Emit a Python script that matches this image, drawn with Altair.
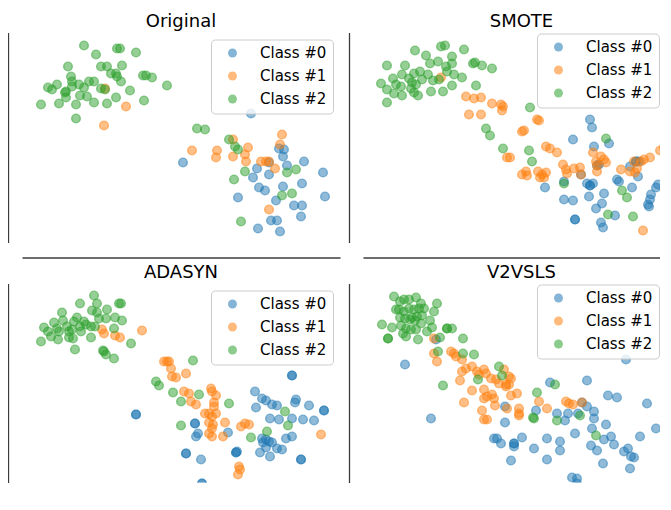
import altair as alt
import pandas as pd

CLASSES = ["Class #0", "Class #1", "Class #2"]
COLORS = ["#1f77b4", "#ff7f0e", "#2ca02c"]
TITLES = ["Original", "SMOTE", "ADASYN", "V2VSLS"]

# ---- Original ----
ORIG_0 = [(229,129),(161,80),(257,94),(262,93),(261,86),(247,80),(235,74),(265,77),(282,81),
          (247,68),(231,65),(301,70),(237,55),(243,52),(261,56),(280,59),(303,46),(216,45),
          (254,42),(272,37),(280,37),(279,26),(249,22),(255,22),(236,14),(258,11)]
ORIG_1 = [(83,154),(104,136),(82,117),(170,92),(195,92),(194,85),(211,103),(226,95),(211,86),
          (223,88),(224,81),(260,108),(258,98),(239,81),(244,81),(247,81),(253,74),(247,33)]
ORIG_2 = [(62,197),(74,188),(95,194),(98,194),(114,190),(46,176),(79,176),(85,176),(100,177),
          (89,169),(94,169),(95,166),(121,167),(124,167),(130,165),(49,166),(50,161),(99,161),
          (67,161),(72,161),(145,157),(35,158),(26,155),(30,153),(44,151),(43,150),(44,145),
          (57,158),(62,155),(50,156),(79,154),(83,153),(108,152),(58,147),(65,146),(94,145),
          (122,142),(19,138),(37,139),(54,138),(72,140),(85,139),(54,124),(175,114),(183,113),
          (207,103),(213,96),(216,93),(265,70),(274,73),(223,71),(212,63),(260,47),(270,49),(219,21)]

# ---- SMOTE ----
SMOTE_0 = [(227,123),(229,115),(210,103),(231,96),(246,99),(234,77),(236,78),(218,68),(182,55),
           (201,61),(224,59),(227,57),(230,59),(226,46),(241,49),(201,43),(210,42),(239,39),
           (233,34),(254,63),(256,61),(269,55),(267,76),(273,81),(276,81),(275,66),(295,58),
           (293,55),(288,48),(287,43),(285,38),(286,36),(212,23),(212,23),(252,27),(238,20),(240,15),
           (227,57),(273,81)]
SMOTE_1 = [(78,165),(103,146),(111,144),(118,145),(129,139),(138,138),(140,136),(139,132),
           (106,128),(118,128),(144,85),(147,85),(174,123),(176,122),(159,111),(161,112),
           (183,96),(187,94),(194,90),(230,90),(238,86),(241,83),(243,80),(233,81),(234,77),
           (200,78),(203,73),(211,74),(217,75),(218,68),(163,71),(159,68),(164,67),(175,71),
           (179,68),(183,70),(177,65),(181,65),(204,69),(234,71),(258,73),(267,71),(271,81),
           (278,81),(281,83),(287,85),(272,70),(274,74),(297,92),(301,95),(280,12)]
SMOTE_2 = [(52,192),(78,196),(82,197),(101,193),(63,187),(89,186),(24,177),(42,177),(67,179),
           (75,181),(89,179),(83,176),(84,171),(110,179),(112,180),(119,177),(129,174),(57,171),
           (51,169),(39,168),(65,168),(91,168),(30,164),(46,164),(59,163),(70,162),(76,163),
           (99,165),(18,159),(33,158),(38,156),(49,160),(53,158),(89,157),(113,157),(24,153),
           (31,149),(39,147),(48,154),(51,150),(55,147),(68,151),(80,151),(24,140),(123,114),
           (127,107),(140,94),(167,135),(166,92),(169,81),(243,104),(201,59),(259,52),(264,45),
           (245,28),(270,26)]

# ---- ADASYN ----
ADA_0 = [(114,79),(114,79),(173,70),(173,70),(174,57),(176,60),(206,61),(164,40),(164,40),
         (179,34),(180,10),(180,10),(214,41),(214,41),(215,42),(270,118),(270,118),(233,102),
         (234,86),(240,95),(244,93),(250,89),(255,88),(274,94),(273,91),(287,88),(302,83),
         (302,83),(248,75),(257,74),(270,75),(281,74),(292,73),(240,55),(244,54),(241,51),
         (247,52),(250,51),(264,55),(270,57),(238,41),(244,46),(248,37),(255,45),(260,44),
         (279,34),(279,34)]
ADA_1 = [(80,164),(82,160),(93,158),(98,156),(120,163),(142,132),(145,132),(147,132),(149,125),
         (150,117),(154,116),(164,120),(162,102),(167,100),(169,92),(174,89),(189,105),(190,102),
         (194,98),(192,91),(192,87),(183,80),(187,80),(190,77),(194,80),(187,71),(190,65),
         (191,69),(187,60),(190,57),(201,57),(203,71),(219,67),(223,70),(227,69),(217,27),
         (218,24),(216,19),(299,59)]
ADA_2 = [(72,198),(58,190),(75,190),(97,190),(99,190),(40,181),(70,183),(75,181),(85,184),
         (32,171),(41,173),(55,176),(52,172),(62,172),(77,175),(84,175),(93,176),(100,173),
         (22,166),(26,162),(35,165),(37,162),(45,167),(47,162),(50,164),(58,167),(59,162),
         (64,169),(69,167),(73,167),(92,165),(29,157),(36,154),(47,156),(51,155),(69,156),
         (19,152),(109,150),(53,144),(81,143),(82,142),(84,139),(92,135),(134,112),(137,108),
         (171,133),(151,101),(159,92),(177,99),(207,90),(159,68),(229,56),(245,62),(263,82),(266,68)]

# ---- V2VSLS ----
V2_0 = [(73,154),(42,129),(68,75),(142,87),(142,71),(131,55),(134,55),(138,50),(148,33),
        (187,111),(224,113),(173,83),(194,80),(202,73),(205,80),(215,80),(219,91),(224,87),
        (231,82),(231,75),(245,98),(254,96),(284,90),(263,134),(243,69),(212,60),(229,65),
        (241,54),(248,57),(251,49),(293,65),(303,60),(277,57),(159,56),(151,50),(151,50),
        (151,47),(184,55),(197,52),(197,43),(171,45),(228,48),(234,43),(261,42),(265,45),
        (268,37),(271,36),(184,34),(240,30),(267,25),(209,16),(214,15),(214,10)]
V2_1 = [(71,155),(71,140),(74,132),(88,142),(91,140),(93,137),(99,134),(99,122),(103,125),
        (109,127),(97,113),(114,122),(116,119),(121,124),(123,120),(128,115),(133,114),(136,110),
        (143,109),(109,103),(121,104),(124,97),(121,95),(129,99),(131,95),(101,91),(132,88),
        (119,83),(121,74),(124,74),(141,124),(146,117),(148,115),(146,109),(143,107),(148,98),
        (154,100),(156,85),(156,80),(156,78),(144,85),(176,92),(184,85),(203,92),(206,90),
        (210,89),(219,91)]
V2_2 = [(31,197),(37,192),(41,194),(46,194),(53,196),(58,190),(74,190),(33,184),(36,184),
        (41,182),(46,185),(51,184),(56,185),(61,185),(71,182),(37,176),(42,175),(49,176),
        (54,177),(59,178),(67,173),(58,170),(52,173),(47,174),(19,169),(29,166),(38,168),
        (43,165),(48,164),(53,164),(64,162),(69,166),(40,160),(43,157),(55,154),(25,155),
        (25,155),(84,165),(84,165),(89,165),(77,156),(100,155),(75,142),(100,140),(111,139),
        (80,108),(136,127),(139,118),(115,114),(174,101),(192,109),(170,76),(171,75),(194,73),
        (217,78),(233,58)]

# visible extents (data units) of each panel
X_FULL = 318
X_CUT = 297
Y_TOP = 210
Y_LOW_BOTTOM = 11     # lower row is cut a little at the bottom edge

AXIS_COLOR = "#3c3c3c"


def frame(c0, c1, c2):
    rows = []
    for cls, pts in zip(CLASSES, (c0, c1, c2)):
        for x, y in pts:
            rows.append({"x": x, "y": y, "cls": cls})
    return pd.DataFrame(rows)


def panel(df, title, xmax, ymin, bottom_axis, dx, legend_offset):
    if bottom_axis:
        x_axis = alt.Axis(domain=True, ticks=False, labels=False, grid=False,
                          offset=15, domainColor=AXIS_COLOR, domainWidth=1.3)
    else:
        x_axis = None
    y_axis = alt.Axis(domain=True, ticks=False, labels=False, grid=False,
                      offset=14, domainColor=AXIS_COLOR, domainWidth=1.3)
    cscale = alt.Scale(domain=CLASSES, range=COLORS)
    return alt.Chart(
        df,
        title=alt.TitleParams(text=title, fontSize=18, font="DejaVu Sans", fontWeight="normal",
                              color="black", anchor="middle", frame="group", offset=-16,
                              baseline="bottom", dx=dx),
    ).mark_circle(size=76, fillOpacity=0.5, strokeOpacity=0.5, strokeWidth=1.4, clip=True).encode(
        x=alt.X("x:Q", scale=alt.Scale(domain=[0, xmax], nice=False, zero=False), axis=x_axis, title=None),
        y=alt.Y("y:Q", scale=alt.Scale(domain=[ymin, Y_TOP], nice=False, zero=False), axis=y_axis, title=None),
        color=alt.Color("cls:N", scale=cscale, legend=alt.Legend(
            title=None, orient="top-right", offset=legend_offset,
            fillColor="rgba(255,255,255,0.8)", strokeColor="#cccccc", cornerRadius=4,
            padding=6, labelFontSize=15, labelFont="DejaVu Sans", labelColor="black",
            symbolType="circle", symbolSize=80, symbolOpacity=0.55, symbolStrokeWidth=0,
            rowPadding=7, labelOffset=20, symbolOffset=8)),
        stroke=alt.Stroke("cls:N", scale=cscale, legend=None),
    ).properties(width=xmax, height=Y_TOP - ymin)


p1 = panel(frame(ORIG_0, ORIG_1, ORIG_2), TITLES[0], X_FULL, 0, True, 0, 7)
p2 = panel(frame(SMOTE_0, SMOTE_1, SMOTE_2), TITLES[1], X_CUT, 0, True, 10, 1)
p3 = panel(frame(ADA_0, ADA_1, ADA_2), TITLES[2], X_FULL, Y_LOW_BOTTOM, False, 0, 7)
p4 = panel(frame(V2_0, V2_1, V2_2), TITLES[3], X_CUT, Y_LOW_BOTTOM, False, 10, 1)

indep = dict(x="independent", y="independent", color="independent", stroke="independent")
row1 = alt.hconcat(p1, p2, spacing=9).resolve_scale(**indep).resolve_legend(color="independent")
row2 = alt.hconcat(p3, p4, spacing=9).resolve_scale(**indep).resolve_legend(color="independent")
chart = alt.vconcat(row1, row2, spacing=6).resolve_scale(**indep).resolve_legend(
    color="independent"
).properties(
    padding={"left": 0, "top": 4.5, "right": 0, "bottom": 0}
).configure_view(stroke=None)

chart.save("out.html", embed_options={"renderer": "svg", "actions": False})
